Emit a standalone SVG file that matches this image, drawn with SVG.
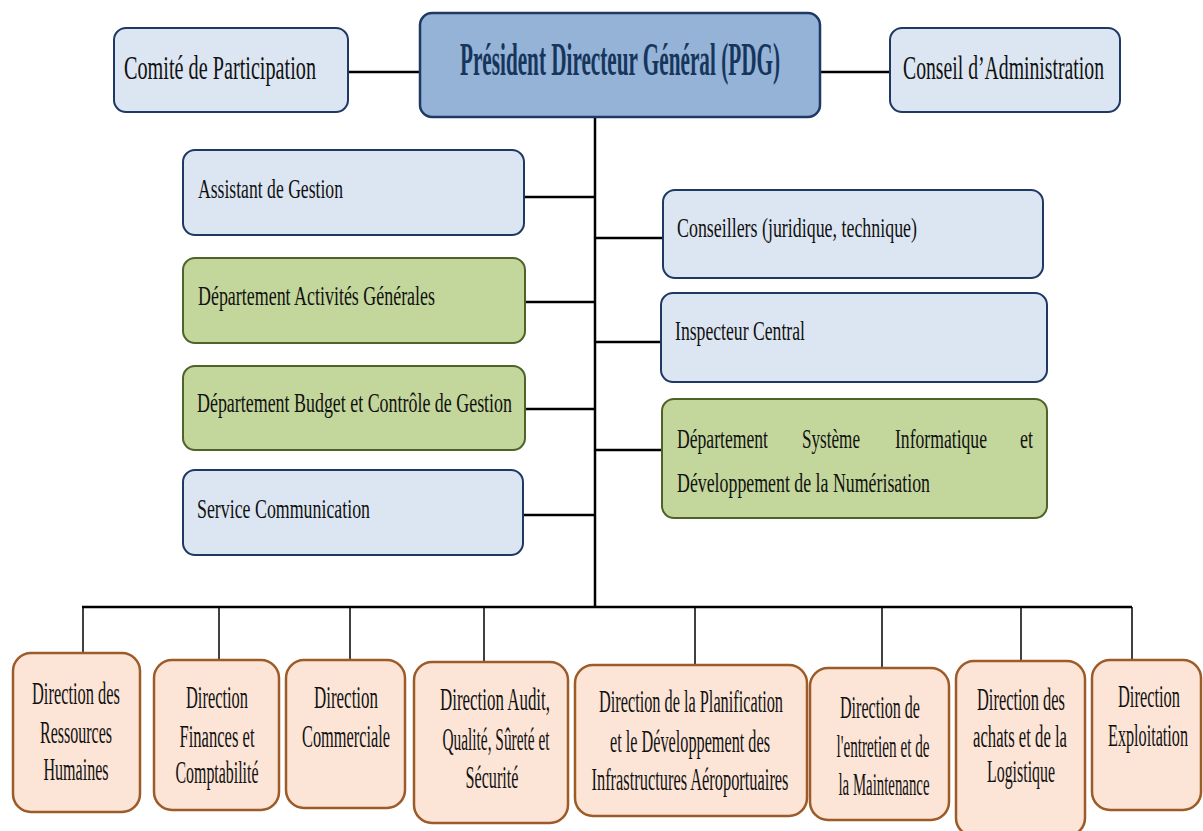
<svg xmlns="http://www.w3.org/2000/svg" width="1203" height="831" viewBox="0 0 1203 831">
<style>
.blue{fill:#dce6f2;stroke:#1f3864;stroke-width:2}
.pdg{fill:#95b3d7;stroke:#1f3864;stroke-width:2.5}
.green{fill:#c3d69b;stroke:#4f6228;stroke-width:2}
.orange{fill:#fce4d6;stroke:#9c5b28;stroke-width:2.5}
text{font-family:"Liberation Serif","Times New Roman",serif;fill:#111}
.t{font-size:27px}
.tb{font-size:31px;text-anchor:middle}
.tl{font-size:33px}
.title{font-size:46px;font-weight:bold;fill:#17365d;text-anchor:middle}
.c{stroke:#000;stroke-width:2.5;fill:none}
.d{stroke:#000;stroke-width:1.5;fill:none}
</style>
<rect width="1203" height="831" fill="#fff"/>
<g id="connectors">
<line class="c" x1="348" y1="72" x2="420" y2="72"/>
<line class="c" x1="820" y1="72" x2="890" y2="72"/>
<line class="c" x1="595" y1="117" x2="595" y2="608"/>
<line class="c" x1="524" y1="197" x2="595" y2="197"/>
<line class="c" x1="525" y1="302" x2="595" y2="302"/>
<line class="c" x1="525" y1="409" x2="595" y2="409"/>
<line class="c" x1="523" y1="515" x2="595" y2="515"/>
<line class="c" x1="595" y1="238" x2="663" y2="238"/>
<line class="c" x1="595" y1="342" x2="661" y2="342"/>
<line class="c" x1="595" y1="450" x2="662" y2="450"/>
<line class="c" x1="82" y1="607" x2="1132" y2="607"/>
<line class="d" x1="83" y1="607" x2="83" y2="653"/>
<line class="d" x1="219" y1="607" x2="219" y2="660"/>
<line class="d" x1="350" y1="607" x2="350" y2="660"/>
<line class="d" x1="484" y1="607" x2="484" y2="662"/>
<line class="d" x1="695" y1="607" x2="695" y2="665"/>
<line class="d" x1="882" y1="607" x2="882" y2="668"/>
<line class="d" x1="1021" y1="607" x2="1021" y2="661"/>
<line class="d" x1="1132" y1="607" x2="1132" y2="660"/>
</g>
<g id="comite"><rect class="blue" x="114" y="28" width="234" height="84" rx="12"/><text class="tl" x="124" y="79" textLength="192" lengthAdjust="spacingAndGlyphs">Comité de Participation</text></g>
<g id="pdg"><rect class="pdg" x="420" y="13" width="400" height="104" rx="12"/><text class="title" x="620" y="75" textLength="320" lengthAdjust="spacingAndGlyphs">Président Directeur Général (PDG)</text></g>
<g id="conseil"><rect class="blue" x="890" y="28" width="230" height="84" rx="12"/><text class="tl" x="903" y="79" textLength="201" lengthAdjust="spacingAndGlyphs">Conseil d’Administration</text></g>
<g id="assistant"><rect class="blue" x="183" y="150" width="341" height="85" rx="12"/><text class="t" x="198" y="198" textLength="145" lengthAdjust="spacingAndGlyphs">Assistant de Gestion</text></g>
<g id="activites"><rect class="green" x="183" y="258" width="342" height="85" rx="12"/><text class="t" x="198" y="305" textLength="237" lengthAdjust="spacingAndGlyphs">Département Activités Générales</text></g>
<g id="budget"><rect class="green" x="183" y="366" width="342" height="84" rx="12"/><text class="t" x="197" y="412" textLength="315" lengthAdjust="spacingAndGlyphs">Département Budget et Contrôle de Gestion</text></g>
<g id="communication"><rect class="blue" x="183" y="470" width="340" height="85" rx="12"/><text class="t" x="197" y="518" textLength="173" lengthAdjust="spacingAndGlyphs">Service Communication</text></g>
<g id="conseillers"><rect class="blue" x="663" y="190" width="380" height="88" rx="12"/><text class="t" x="677" y="237" textLength="240" lengthAdjust="spacingAndGlyphs">Conseillers (juridique, technique)</text></g>
<g id="inspecteur"><rect class="blue" x="661" y="293" width="386" height="89" rx="12"/><text class="t" x="675" y="340" textLength="130" lengthAdjust="spacingAndGlyphs">Inspecteur Central</text></g>
<g id="dsi"><rect class="green" x="662" y="399" width="385" height="119" rx="12"/>
<text class="t" x="677" y="448" textLength="91" lengthAdjust="spacingAndGlyphs">Département</text>
<text class="t" x="802" y="448" textLength="58" lengthAdjust="spacingAndGlyphs">Système</text>
<text class="t" x="895" y="448" textLength="92" lengthAdjust="spacingAndGlyphs">Informatique</text>
<text class="t" x="1020" y="448" textLength="13" lengthAdjust="spacingAndGlyphs">et</text>
<text class="t" x="677" y="492" textLength="253" lengthAdjust="spacingAndGlyphs">Développement de la Numérisation</text></g>
<g id="drh"><rect class="orange" x="13" y="653" width="127" height="159" rx="18"/>
<text class="tb" x="76" y="704" textLength="88" lengthAdjust="spacingAndGlyphs">Direction des</text>
<text class="tb" x="76" y="743" textLength="72" lengthAdjust="spacingAndGlyphs">Ressources</text>
<text class="tb" x="76" y="780" textLength="65" lengthAdjust="spacingAndGlyphs">Humaines</text></g>
<g id="dfc"><rect class="orange" x="154" y="660" width="125" height="150" rx="18"/>
<text class="tb" x="217" y="708" textLength="62" lengthAdjust="spacingAndGlyphs">Direction</text>
<text class="tb" x="217" y="747" textLength="75" lengthAdjust="spacingAndGlyphs">Finances et</text>
<text class="tb" x="217" y="783" textLength="83" lengthAdjust="spacingAndGlyphs">Comptabilité</text></g>
<g id="dc"><rect class="orange" x="286" y="660" width="119" height="148" rx="18"/>
<text class="tb" x="346" y="708" textLength="64" lengthAdjust="spacingAndGlyphs">Direction</text>
<text class="tb" x="346" y="747" textLength="88" lengthAdjust="spacingAndGlyphs">Commerciale</text></g>
<g id="daq"><rect class="orange" x="414" y="662" width="154" height="161" rx="18"/>
<text class="tb" x="495" y="710" textLength="110" lengthAdjust="spacingAndGlyphs">Direction Audit,</text>
<text class="tb" x="496" y="750" textLength="107" lengthAdjust="spacingAndGlyphs">Qualité, Sûreté et</text>
<text class="tb" x="492" y="788" textLength="53" lengthAdjust="spacingAndGlyphs">Sécurité</text></g>
<g id="dpd"><rect class="orange" x="575" y="665" width="232" height="151" rx="18"/>
<text class="tb" x="691" y="712" textLength="184" lengthAdjust="spacingAndGlyphs">Direction de la Planification</text>
<text class="tb" x="690" y="752" textLength="160" lengthAdjust="spacingAndGlyphs">et le Développement des</text>
<text class="tb" x="690" y="790" textLength="197" lengthAdjust="spacingAndGlyphs">Infrastructures Aéroportuaires</text></g>
<g id="dem"><rect class="orange" x="810" y="668" width="139" height="152" rx="18"/>
<text class="tb" x="880" y="718" textLength="80" lengthAdjust="spacingAndGlyphs">Direction de</text>
<text class="tb" x="883" y="757" textLength="93" lengthAdjust="spacingAndGlyphs">l'entretien et de</text>
<text class="tb" x="884" y="795" textLength="91" lengthAdjust="spacingAndGlyphs">la Maintenance</text></g>
<g id="dal"><rect class="orange" x="956" y="661" width="129" height="175" rx="18"/>
<text class="tb" x="1021" y="710" textLength="88" lengthAdjust="spacingAndGlyphs">Direction des</text>
<text class="tb" x="1020" y="747" textLength="94" lengthAdjust="spacingAndGlyphs">achats et de la</text>
<text class="tb" x="1021" y="782" textLength="68" lengthAdjust="spacingAndGlyphs">Logistique</text></g>
<g id="dex"><rect class="orange" x="1092" y="660" width="109" height="150" rx="18"/>
<text class="tb" x="1149" y="707" textLength="62" lengthAdjust="spacingAndGlyphs">Direction</text>
<text class="tb" x="1148" y="746" textLength="80" lengthAdjust="spacingAndGlyphs">Exploitation</text></g>
</svg>
